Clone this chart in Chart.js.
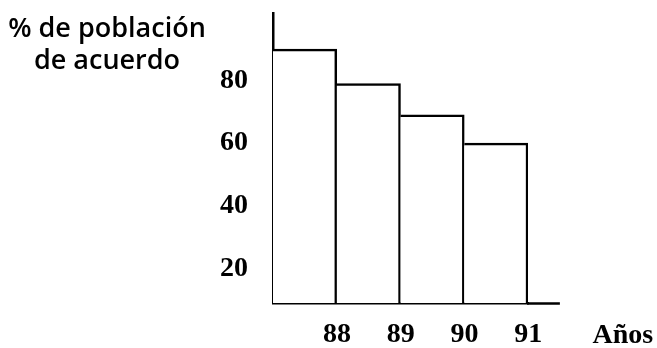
<!DOCTYPE html>
<html lang="es">
<head>
  <meta charset="UTF-8" />
  <title>% de población de acuerdo</title>
  <script src="https://cdn.jsdelivr.net/npm/chart.js"></script>
  <style>
    body { margin: 0; padding: 0; background: #ffffff; }
    canvas { display: block; }
  </style>
</head>
<body>
  <canvas id="chart" width="657" height="348"></canvas>

  <script>
    // datos
    const years = ['88', '89', '90', '91'];
    const agreePct = [90, 79, 69, 60];
    const yTickValues = [20, 40, 60, 80];
    const yTitleLines = ['% de población', 'de acuerdo'];
    const xTitle = 'Años';

    const NUM_FONT = "'Liberation Serif', serif";
    const TITLE_FONT = "'Open Sans', sans-serif";

    // titulo del eje y, prolongacion del eje x y etiqueta "Años"
    const extras = {
      id: 'extras',
      afterDraw(chart) {
        const { ctx, chartArea, scales } = chart;
        const x = scales.x;
        const half = (x.getPixelForValue(1) - x.getPixelForValue(0)) / 2;
        const end = chartArea.right + half;
        ctx.save();
        ctx.strokeStyle = '#000';
        ctx.lineWidth = 2.5;
        ctx.beginPath();
        ctx.moveTo(chartArea.right - 1, chartArea.bottom + 0.5);
        ctx.lineTo(end, chartArea.bottom + 0.5);
        ctx.stroke();

        ctx.fillStyle = '#000';
        ctx.font = '600 27px ' + TITLE_FONT;
        ctx.textAlign = 'center';
        ctx.textBaseline = 'alphabetic';
        ctx.fillText(yTitleLines[0], 107, 37);
        ctx.fillText(yTitleLines[1], 107, 69);

        ctx.font = 'bold 28px ' + NUM_FONT;
        ctx.fillText(xTitle, end + 63, chartArea.bottom + 40);
        ctx.restore();
      }
    };

    new Chart(document.getElementById('chart').getContext('2d'), {
      type: 'bar',
      data: {
        labels: years,
        datasets: [{
          data: agreePct,
          backgroundColor: '#ffffff',
          borderColor: '#000000',
          borderWidth: { top: 2.5, right: 2.5, bottom: 0, left: 0 },
          borderSkipped: false,
          barPercentage: 1,
          categoryPercentage: 1
        }]
      },
      options: {
        responsive: false,
        devicePixelRatio: 1,
        animation: false,
        layout: { padding: { top: 13, right: 129, bottom: 0, left: 0 } },
        plugins: {
          legend: { display: false },
          tooltip: { enabled: false }
        },
        scales: {
          x: {
            grid: { display: false },
            border: { display: true, color: '#000', width: 2.5 },
            ticks: {
              color: '#000',
              font: { family: NUM_FONT, size: 28, weight: 'bold' },
              labelOffset: 32,
              padding: 7,
              maxRotation: 0,
              autoSkip: false
            },
            afterFit(scale) {
              scale.height = 45;
              scale.paddingLeft = 0;
              scale.paddingRight = 0;
            }
          },
          y: {
            min: 9,
            max: 101.5,
            grid: { display: false },
            border: { display: true, color: '#000', width: 2.5 },
            ticks: {
              color: '#000',
              font: { family: NUM_FONT, size: 28, weight: 'bold' },
              padding: 17
            },
            afterBuildTicks(scale) {
              scale.ticks = yTickValues.map(v => ({ value: v }));
            },
            afterFit(scale) {
              scale.width = 273;
              scale.paddingTop = 0;
              scale.paddingBottom = 0;
            }
          }
        }
      },
      plugins: [extras]
    });
  </script>
</body>
</html>
